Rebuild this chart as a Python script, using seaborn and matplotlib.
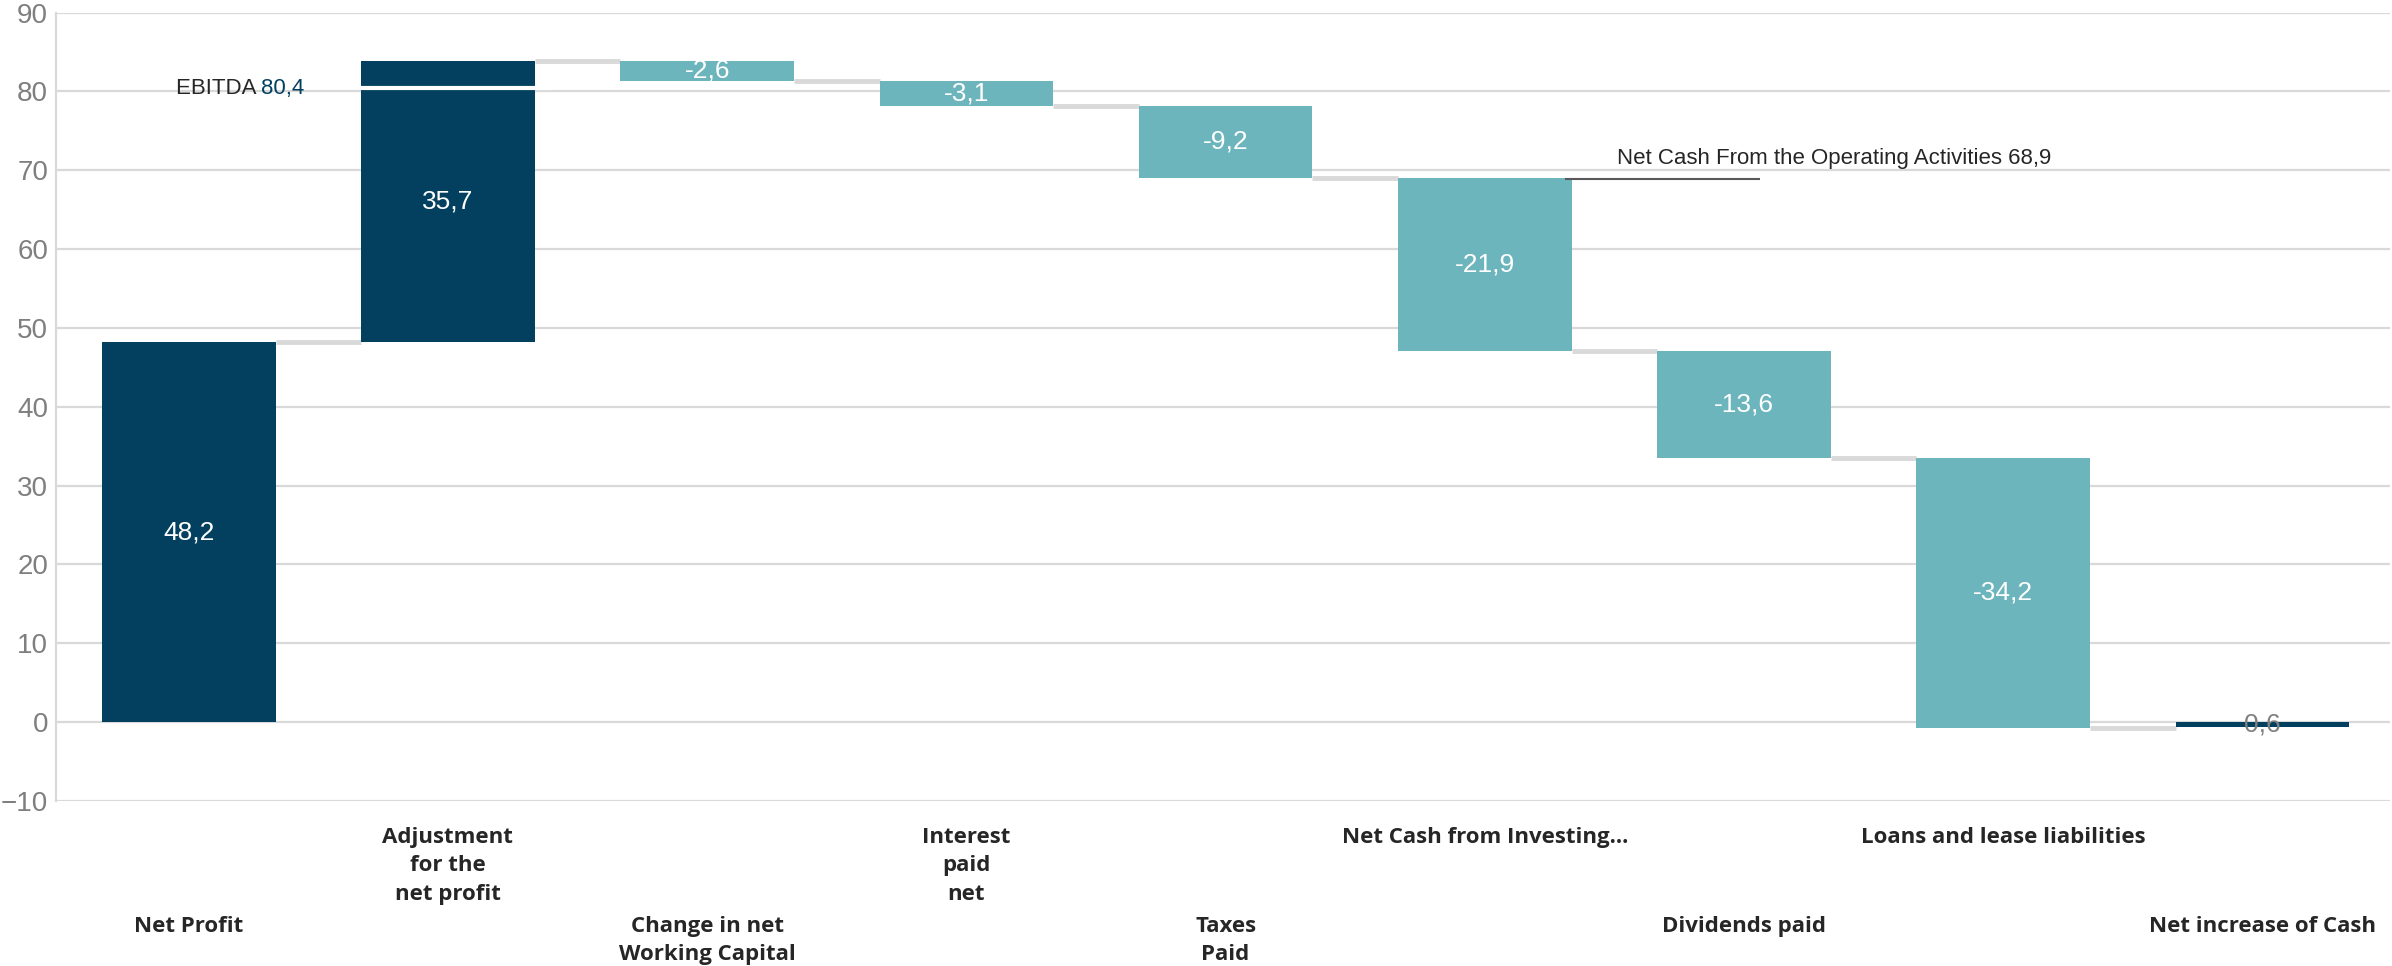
import matplotlib
matplotlib.use("Agg")
import matplotlib.pyplot as plt
import seaborn as sns
import numpy as np
import pandas as pd

categories = ["Net Profit", "Adjustment\nfor the\nnet profit", "Change in net\nWorking Capital",
              "Interest\npaid\nnet", "Taxes\nPaid", "Net Cash from Investing...",
              "Dividends paid", "Loans and lease liabilities", "Net increase of Cash"]
changes = [48.2, 35.7, -2.6, -3.1, -9.2, -21.9, -13.6, -34.2, -0.6]
is_total = [True, False, False, False, False, False, False, False, True]
value_labels = ["48,2", "35,7", "-2,6", "-3,1", "-9,2", "-21,9", "-13,6", "-34,2", "0,6"]
ebitda = 80.4
operating = 68.9

NAVY = "#03405F"
TEAL = "#6DB5BC"
GRID = "#D9D9D9"

# waterfall ranges
lows, highs, ends = [], [], []
running = 0.0
for v, tot in zip(changes, is_total):
    if tot:
        lo, hi = min(0, v), max(0, v)
        running = v if v > 0 else running
    else:
        start = running
        running = running + v
        lo, hi = min(start, running), max(start, running)
    lows.append(lo)
    highs.append(hi)
    ends.append(running)

colors = [NAVY if (t or v > 0) else TEAL for v, t in zip(changes, is_total)]
df = pd.DataFrame({"cat": categories, "span": np.array(highs) - np.array(lows)})

sns.set_style("white")
plt.rcParams["font.family"] = ["Liberation Sans", "DejaVu Sans"]

fig = plt.figure(figsize=(23.92, 9.66), dpi=100)
ax = fig.add_axes([0.0236, 0.171, 0.9754, 0.816])

sns.barplot(data=df, x="cat", y="span", hue="cat", palette=colors, legend=False,
            width=0.67, saturation=1, ax=ax, zorder=3, linewidth=0)
for p, lo in zip(ax.patches, lows):
    p.set_y(lo)

ax.set_xlim(-0.51, 8.49)
ax.set_ylim(-10, 90)
ax.set_yticks(range(-10, 91, 10))
ax.yaxis.grid(True, color=GRID, lw=1.6, zorder=0)
ax.set_axisbelow(True)
for s in ["top", "right", "bottom"]:
    ax.spines[s].set_visible(False)
ax.spines["left"].set_color(GRID)
ax.spines["left"].set_linewidth(1.6)
ax.tick_params(axis="y", length=0, labelsize=20, labelcolor="#7F7F7F", pad=6)
ax.set_xlabel("")
ax.set_ylabel("")

# connectors between bars
half = 0.335
for i in range(len(categories) - 1):
    ax.hlines(ends[i], i + half, i + 1 - half, color=GRID, lw=3.5, zorder=2)

# value labels
for i, (lo, hi, lab) in enumerate(zip(lows, highs, value_labels)):
    mid = (lo + hi) / 2
    c = "white" if i < 8 else "#7F7F7F"
    ax.text(i, mid, lab, ha="center", va="center", color=c, fontsize=19, zorder=5)

# EBITDA marker
ax.hlines(ebitda, 1 - half, 1.4, color="white", lw=3, zorder=4)
ax.text(0.28, ebitda, "EBITDA ", ha="right", va="center", fontsize=16, color="#262626", zorder=5)
ax.text(0.28, ebitda, "80,4", ha="left", va="center", fontsize=16, color=NAVY, zorder=5)

# operating cash marker
ax.hlines(operating, 5.31, 6.06, color="#595959", lw=1.5, zorder=4)
ax.text(5.51, operating + 2.6, "Net Cash From the Operating Activities 68,9",
        ha="left", va="center", fontsize=16, color="#262626", zorder=5)

# staggered x labels
ax.set_xticks(range(len(categories)))
ax.set_xticklabels(categories, fontsize=16, fontweight="bold", color="#262626",
                   family=["Open Sans", "DejaVu Sans"], linespacing=1.45)
ax.tick_params(axis="x", length=0)
for i, tick in enumerate(ax.xaxis.get_major_ticks()):
    tick.set_pad(19 if i % 2 == 1 else 83)

fig.savefig("out.png", dpi=100)
